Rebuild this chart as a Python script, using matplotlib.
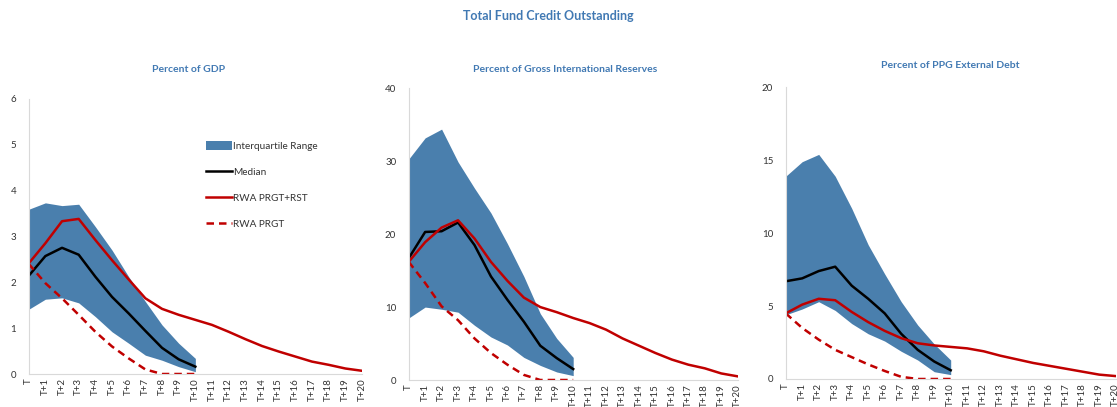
import matplotlib
matplotlib.use("Agg")
import matplotlib.pyplot as plt
from matplotlib.patches import Patch
from matplotlib.lines import Line2D

plt.rcParams['font.family'] = ['Lato', 'DejaVu Sans']

periods = ["T"] + [f"T+{i}" for i in range(1, 21)]

# Percent of GDP
gdp_q1 = [1.41, 1.63, 1.66, 1.55, 1.25, 0.92, 0.67, 0.41, 0.30, 0.16, 0.05]
gdp_q3 = [3.59, 3.73, 3.67, 3.70, 3.21, 2.70, 2.12, 1.58, 1.07, 0.67, 0.34]
gdp_median = [2.14, 2.57, 2.75, 2.60, 2.12, 1.68, 1.32, 0.94, 0.57, 0.32, 0.16]
gdp_rst = [2.41, 2.85, 3.33, 3.38, 2.92, 2.48, 2.06, 1.65, 1.42, 1.29, 1.18,
           1.07, 0.92, 0.76, 0.61, 0.49, 0.38, 0.27, 0.20, 0.12, 0.07]
gdp_prgt = [2.40, 1.98, 1.65, 1.29, 0.92, 0.60, 0.34, 0.10, 0.0, 0.0, 0.0]

# Percent of Gross International Reserves
res_q1 = [8.5, 10.0, 9.7, 9.3, 7.5, 5.9, 4.8, 3.1, 2.0, 1.1, 0.6]
res_q3 = [30.3, 33.2, 34.4, 29.9, 26.3, 22.9, 18.7, 14.2, 9.1, 5.7, 3.1]
res_median = [16.7, 20.3, 20.4, 21.6, 18.5, 14.2, 11.0, 8.0, 4.7, 3.0, 1.5]
res_rst = [16.2, 18.9, 20.9, 21.9, 19.4, 16.2, 13.6, 11.3, 10.0, 9.3, 8.5,
           7.8, 6.9, 5.7, 4.7, 3.7, 2.8, 2.1, 1.6, 0.9, 0.5]
res_prgt = [16.2, 13.3, 10.1, 8.2, 5.7, 3.7, 2.1, 0.7, 0.0, 0.0, 0.0]

# Percent of PPG External Debt
ppg_q1 = [4.4, 4.8, 5.3, 4.7, 3.8, 3.1, 2.6, 1.9, 1.3, 0.5, 0.3]
ppg_q3 = [13.9, 14.9, 15.4, 13.9, 11.7, 9.2, 7.2, 5.3, 3.7, 2.4, 1.3]
ppg_median = [6.7, 6.9, 7.4, 7.7, 6.4, 5.5, 4.5, 3.1, 2.0, 1.2, 0.6]
ppg_rst = [4.5, 5.1, 5.5, 5.4, 4.6, 3.9, 3.3, 2.8, 2.45, 2.3, 2.2,
           2.1, 1.9, 1.6, 1.35, 1.1, 0.9, 0.7, 0.5, 0.3, 0.2]
ppg_prgt = [4.5, 3.5, 2.7, 2.0, 1.5, 1.0, 0.55, 0.15, 0.0, 0.0, 0.0]

titles = ["Percent of GDP", "Percent of Gross International Reserves",
          "Percent of PPG External Debt"]
yticks = [[0, 1, 2, 3, 4, 5, 6], [0, 10, 20, 30, 40], [0, 5, 10, 15, 20]]

BLUE = "#4a7fad"
RED = "#c00000"
TITLE_C = "#4179b3"
TICK_C = "#333333"

W, H = 1117, 407
fig = plt.figure(figsize=(W / 100, H / 100), dpi=100)

# pixel boxes: left, right, top, bottom
boxes = [(28.7, 362, 98.7, 374), (408.7, 737.7, 88.3, 380), (785.7, 1115.7, 87.3, 379)]
title_pos = [(188.5, 70), (565, 70), (950, 66)]

data = [
    (gdp_q1, gdp_q3, gdp_median, gdp_rst, gdp_prgt),
    (res_q1, res_q3, res_median, res_rst, res_prgt),
    (ppg_q1, ppg_q3, ppg_median, ppg_rst, ppg_prgt),
]

x_all = list(range(len(periods)))
for i, ((l, r, t, b), d) in enumerate(zip(boxes, data)):
    ax = fig.add_axes([l / W, 1 - b / H, (r - l) / W, (b - t) / H])
    q1, q3, med, rst, prgt = d
    xs = x_all[:len(q1)]
    ax.fill_between(xs, q1, q3, color=BLUE, linewidth=0, label="Interquartile Range")
    ax.plot(xs, med, color="black", lw=1.8, label="Median")
    ax.plot(x_all[:len(rst)], rst, color=RED, lw=1.8, label="RWA PRGT+RST")
    ax.plot(xs, prgt, color=RED, lw=1.8, ls=(0, (3, 2)), label="RWA PRGT")
    ax.set_xlim(0, 20)
    ax.set_ylim(yticks[i][0], yticks[i][-1])
    ax.set_yticks(yticks[i])
    ax.set_xticks(x_all)
    ax.set_xticklabels(periods, rotation=90)
    ax.tick_params(axis='both', length=0, labelsize=7, colors=TICK_C)
    ax.tick_params(axis='y', pad=9)
    ax.tick_params(axis='x', pad=3)
    for s in ["top", "right"]:
        ax.spines[s].set_visible(False)
    for s in ["left", "bottom"]:
        ax.spines[s].set_color("#d9d9d9")
        ax.spines[s].set_linewidth(0.8)
    ax.patch.set_alpha(0)
    tx, ty = title_pos[i]
    fig.text(tx / W, 1 - ty / H, titles[i],
             ha="center", va="center", fontsize=7.5, fontweight="bold", color=TITLE_C)
    if i == 0:
        handles = [
            Patch(facecolor=BLUE, edgecolor="none"),
            Line2D([0], [0], color="black", lw=1.8),
            Line2D([0], [0], color=RED, lw=1.8),
            Line2D([0], [0], color=RED, lw=1.8, ls=(0, (3, 2))),
        ]
        labels = ["Interquartile Range", "Median", "RWA PRGT+RST", "RWA PRGT"]
        ax.legend(handles, labels, loc="upper left", bbox_to_anchor=(0.52, 0.86),
                  frameon=False, fontsize=7.2, handlelength=2.6, handletextpad=0.1,
                  labelspacing=1.65, handleheight=0.9, borderaxespad=0,
                  labelcolor=TICK_C)

fig.text(548.5 / W, 1 - 16 / H, "Total Fund Credit Outstanding", ha="center", va="center",
         fontsize=9, fontweight="bold", color=TITLE_C)

fig.savefig("out.png", dpi=100)
